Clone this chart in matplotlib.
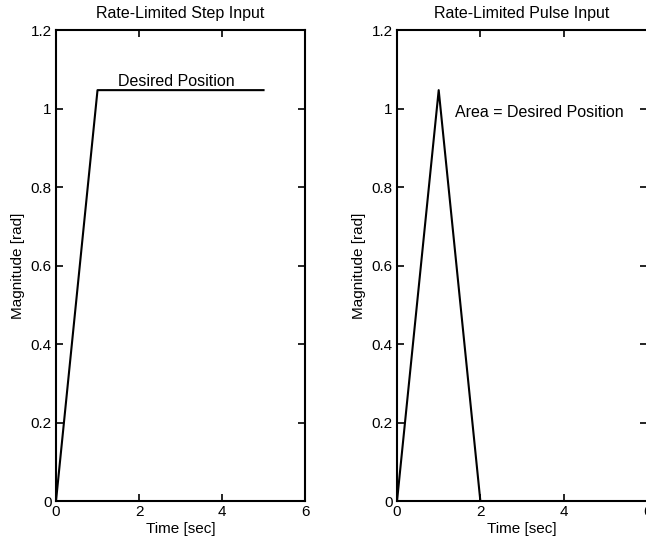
import matplotlib
matplotlib.use("Agg")
import matplotlib.pyplot as plt

plt.rcParams['font.family'] = ['Liberation Sans', 'DejaVu Sans']

# data (desired position = pi/3 rad)
step_t = [0, 1, 5]
step_y = [0, 1.047, 1.047]
pulse_t = [0, 1, 2, 6]
pulse_y = [0, 1.047, 0, 0]

x_ticks = [0, 2, 4, 6]
y_ticks = [0, 0.2, 0.4, 0.6, 0.8, 1.0, 1.2]
y_tick_labels = ['0', '0.2', '0.4', '0.6', '0.8', '1', '1.2']


def style_axes(ax):
    ax.set_xlim(0, 6)
    ax.set_ylim(0, 1.2)
    ax.set_xticks(x_ticks)
    ax.set_xticklabels([str(t) for t in x_ticks])
    ax.set_yticks(y_ticks)
    ax.set_yticklabels(y_tick_labels)
    ax.tick_params(direction='in', top=True, right=True, length=5,
                   width=1.2, labelsize=11, pad=3)
    for s in ax.spines.values():
        s.set_linewidth(1.5)
    ax.set_xlabel('Time [sec]', fontsize=11, labelpad=2)
    ax.set_ylabel('Magnitude [rad]', fontsize=11, labelpad=4)


fig = plt.figure(figsize=(6.46, 5.47), dpi=100)

ax1 = fig.add_axes([0.0867, 0.084, 0.3855, 0.861])
ax1.plot(step_t, step_y, color='black', linewidth=1.5)
ax1.text(2.9, 1.049, 'Desired Position', ha='center', va='bottom', fontsize=11.5)
ax1.set_title('Rate-Limited Step Input', fontsize=11.5, pad=9)
style_axes(ax1)

ax2 = fig.add_axes([0.6146, 0.084, 0.3870, 0.861])
ax2.plot(pulse_t, pulse_y, color='black', linewidth=1.5)
ax2.text(1.4, 0.99, 'Area = Desired Position', ha='left', va='center', fontsize=11.5)
ax2.set_title('Rate-Limited Pulse Input', fontsize=11.5, pad=9)
style_axes(ax2)

fig.savefig('out.png', dpi=100)
